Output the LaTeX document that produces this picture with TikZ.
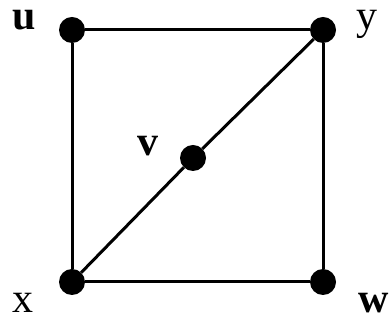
\documentclass[tikz,border=0pt]{standalone}
\usepackage{fontspec}
\setmainfont{Liberation Serif}
\begin{document}
\begin{tikzpicture}[x=1pt,y=1pt,
  dot/.style={circle,fill=black,inner sep=0pt,minimum size=26pt},
  lbl/.style={inner sep=0pt,anchor=base,font=\fontsize{42}{42}\selectfont},
  edge/.style={line width=3pt}]
\useasboundingbox (0,0) rectangle (390,320);
\node[dot] (u) at (72,290) {};
\node[dot] (y) at (323,290) {};
\node[dot] (x) at (72,38) {};
\node[dot] (w) at (323,38) {};
\node[dot] (v) at (193,162) {};
\draw[edge] (u) -- (y);
\draw[edge] (y) -- (w);
\draw[edge] (w) -- (x);
\draw[edge] (x) -- (u);
\draw[edge] (x) -- (v);
\draw[edge] (v) -- (y);
\node[lbl,font=\fontsize{42}{42}\selectfont\bfseries] (lu) at (24,290) {u};
\node[lbl] (ly) at (367,290) {y};
\node[lbl,font=\fontsize{42}{42}\selectfont\bfseries] (lv) at (148,164) {v};
\node[lbl] (lx) at (23,7) {x};
\node[lbl,font=\fontsize{42}{42}\selectfont\bfseries] (lw) at (374,7) {w};
\end{tikzpicture}
\end{document}
